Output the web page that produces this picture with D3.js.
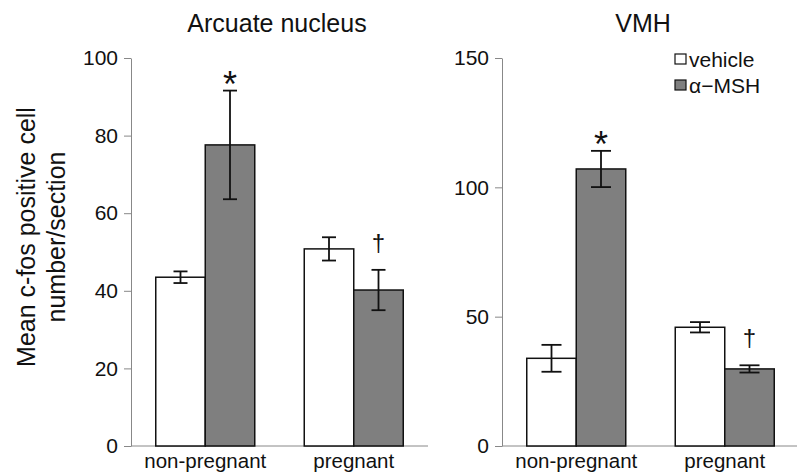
<!DOCTYPE html>
<html>
<head>
<meta charset="utf-8">
<script src="https://cdn.jsdelivr.net/npm/d3@7"></script>
<style>
    body { margin: 0; background: #fff; }
    svg text { font-family: "Liberation Sans", Arial, sans-serif; fill: #111; }
</style>
</head>
<body>
<div id="chart"></div>
<script>
// data
let groups = ["non-pregnant", "pregnant"];
let series = ["vehicle", "α−MSH"];

let arcVehicle = [43.5, 50.8];
let arcVehicleErr = [1.5, 3.0];
let arcMsh = [77.6, 40.2];
let arcMshErr = [14.0, 5.2];

let vmhVehicle = [33.9, 45.9];
let vmhVehicleErr = [5.2, 2.0];
let vmhMsh = [107.1, 29.8];
let vmhMshErr = [7.0, 1.4];

let arcTicks = [0, 20, 40, 60, 80, 100];
let vmhTicks = [0, 50, 100, 150];

// significance marks: [group index, series index, symbol]
let arcMarks = [[0, 1, "*"], [1, 1, "†"]];
let vmhMarks = [[0, 1, "*"], [1, 1, "†"]];

let colors = {"vehicle": "#ffffff", "α−MSH": "#7f7f7f"};

let W = 797, H = 475;
let svg = d3.select("#chart").append("svg")
    .attr("width", W)
    .attr("height", H);

function drawPanel(opts) {
    let g = svg.append("g");

    let y = d3.scaleLinear()
        .domain([0, opts.max])
        .range([446, 58]);

    let x0 = d3.scaleBand()
        .domain(groups)
        .range([opts.left, opts.right])
        .paddingInner(1 / 3)
        .paddingOuter(1 / 6);

    let x1 = d3.scaleBand()
        .domain(series)
        .range([0, x0.bandwidth()]);

    // y axis
    let yAxis = d3.axisLeft(y)
        .tickValues(opts.ticks)
        .tickSize(7)
        .tickSizeOuter(0)
        .tickPadding(6);

    let ax = g.append("g")
        .attr("transform", `translate(${opts.left},0)`)
        .call(yAxis);
    ax.select(".domain").attr("stroke", "#888");
    ax.selectAll(".tick line").attr("stroke", "#888");
    ax.selectAll(".tick text")
        .style("font-size", "21px")
        .attr("fill", "#111");

    // x axis baseline
    g.append("line")
        .attr("x1", opts.left)
        .attr("x2", opts.right)
        .attr("y1", y(0))
        .attr("y2", y(0))
        .attr("stroke", "#888");

    // rows: one per group x series
    let rows = [];
    groups.forEach((grp, i) => {
        rows.push({group: grp, key: series[0], value: opts.vehicle[i], err: opts.vehicleErr[i]});
        rows.push({group: grp, key: series[1], value: opts.msh[i], err: opts.mshErr[i]});
    });

    let cx = d => x0(d.group) + x1(d.key) + x1.bandwidth() / 2;

    g.selectAll(".bar")
        .data(rows)
        .enter()
        .append("rect")
        .attr("class", "bar")
        .attr("x", d => x0(d.group) + x1(d.key))
        .attr("width", x1.bandwidth())
        .attr("y", d => y(d.value))
        .attr("height", d => y(0) - y(d.value))
        .attr("fill", d => colors[d.key])
        .attr("stroke", "#111")
        .attr("stroke-width", 1.5);

    // error bars
    let eb = g.selectAll(".err")
        .data(rows)
        .enter()
        .append("g")
        .attr("class", "err")
        .attr("stroke", "#111")
        .attr("stroke-width", 1.8);
    eb.append("line")
        .attr("x1", cx).attr("x2", cx)
        .attr("y1", d => y(d.value + d.err))
        .attr("y2", d => y(d.value - d.err));
    eb.append("line")
        .attr("x1", d => cx(d) - opts.cap / 2).attr("x2", d => cx(d) + opts.cap / 2)
        .attr("y1", d => y(d.value + d.err))
        .attr("y2", d => y(d.value + d.err));
    eb.append("line")
        .attr("x1", d => cx(d) - opts.cap / 2).attr("x2", d => cx(d) + opts.cap / 2)
        .attr("y1", d => y(d.value - d.err))
        .attr("y2", d => y(d.value - d.err));

    // significance symbols
    opts.marks.forEach(m => {
        let d = rows[m[0] * 2 + m[1]];
        let star = m[2] === "*";
        g.append("text")
            .attr("x", cx(d))
            .attr("y", y(d.value + d.err) + (star ? 6 : -19))
            .attr("text-anchor", "middle")
            .style("font-size", star ? "36px" : "24px")
            .text(m[2]);
    });

    // category labels
    g.selectAll(".xlab")
        .data(groups)
        .enter()
        .append("text")
        .attr("class", "xlab")
        .attr("x", d => x0(d) + x0.bandwidth() / 2)
        .attr("y", 468)
        .attr("text-anchor", "middle")
        .style("font-size", "20.5px")
        .text(d => d);

    // title
    g.append("text")
        .attr("x", opts.titleX)
        .attr("y", 32)
        .attr("text-anchor", "middle")
        .style("font-size", "25px")
        .text(opts.title);

    return g;
}

drawPanel({
    title: "Arcuate nucleus", titleX: 277,
    left: 131, right: 428, max: 100, ticks: arcTicks, cap: 14,
    vehicle: arcVehicle, vehicleErr: arcVehicleErr,
    msh: arcMsh, mshErr: arcMshErr, marks: arcMarks
});

drawPanel({
    title: "VMH", titleX: 643,
    left: 502, right: 799, max: 150, ticks: vmhTicks, cap: 20,
    vehicle: vmhVehicle, vehicleErr: vmhVehicleErr,
    msh: vmhMsh, mshErr: vmhMshErr, marks: vmhMarks
});

// y axis label (two lines)
let ylab = svg.append("text")
    .attr("transform", "translate(0,237) rotate(-90)")
    .attr("text-anchor", "middle")
    .style("font-size", "25px");
ylab.append("tspan").attr("x", 0).attr("y", 35).text("Mean c-fos positive cell");
ylab.append("tspan").attr("x", 0).attr("y", 65).text("number/section");

// legend
let legend = svg.append("g")
    .attr("transform", "translate(675,54)");
let li = legend.selectAll(".li")
    .data(series)
    .enter()
    .append("g")
    .attr("transform", (d, i) => `translate(0,${i * 26})`);
li.append("rect")
    .attr("width", 11)
    .attr("height", 10)
    .attr("fill", d => colors[d])
    .attr("stroke", "#111")
    .attr("stroke-width", 1.2);
li.append("text")
    .attr("x", 14)
    .attr("y", 13)
    .style("font-size", "21px")
    .text(d => d);
</script>
</body>
</html>
